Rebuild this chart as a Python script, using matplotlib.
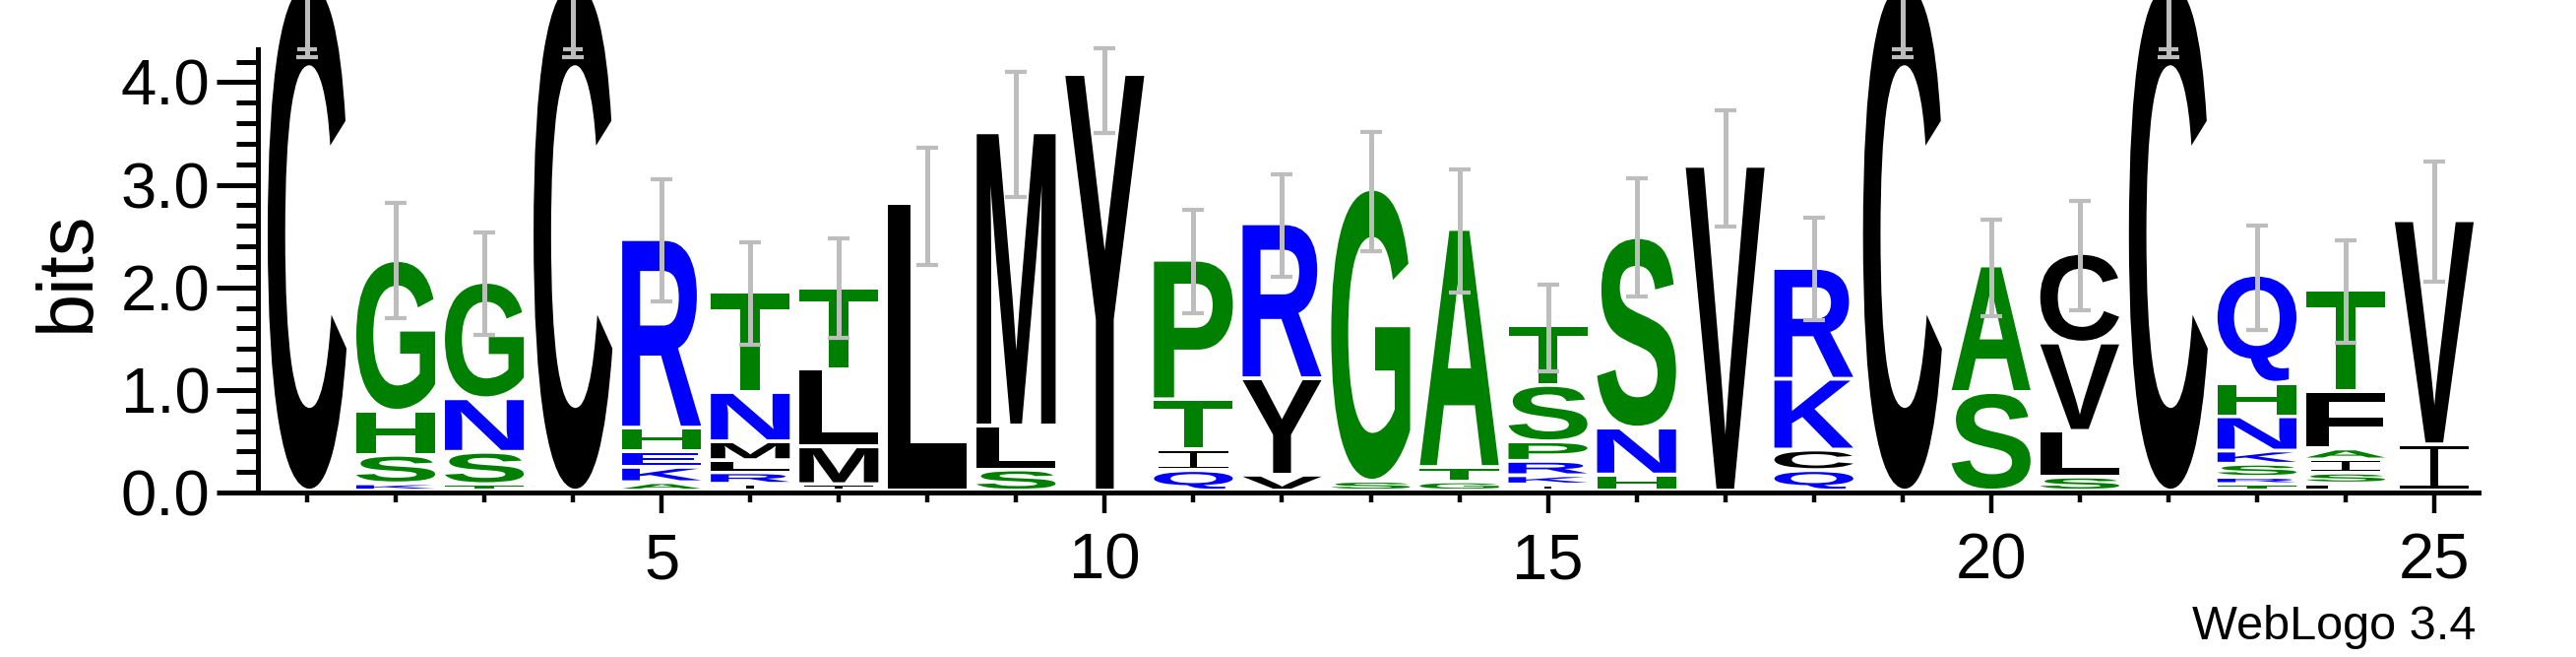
import numpy as np
import matplotlib
matplotlib.use("Agg")
import matplotlib.pyplot as plt
from matplotlib.textpath import TextPath
from matplotlib.patches import PathPatch
from matplotlib.path import Path
from matplotlib.font_manager import FontProperties
from matplotlib.transforms import Affine2D

# ---- data: letters per position (bottom -> top) and their heights in bits ----
positions = list(range(1, 26))
letters = [
    "C", "KSHG", "TSNG", "C", "AKEHR", "IRLMNT", "IMLT", "L", "SLM", "Y",
    "QITP", "VYR", "SG", "GTA", "IKRPST", "HNS", "V", "QCKR", "C", "SA",
    "SLVC", "C", "TRSKNHQ", "LSIAFT", "IV",
]
heights = [
    [4.95],
    [0.071, 0.278, 0.429, 1.469],
    [0.063, 0.315, 0.522, 1.135],
    [4.95],
    [0.082, 0.150, 0.155, 0.227, 1.837],
    [0.067, 0.112, 0.118, 0.184, 0.480, 0.980],
    [0.063, 0.368, 0.755, 0.796],
    [2.80],
    [0.206, 0.429, 2.857],
    [4.06],
    [0.200, 0.200, 0.490, 1.360],
    [0.155, 0.940, 1.510],
    [0.096, 2.845],
    [0.090, 0.140, 2.320],
    [0.060, 0.090, 0.140, 0.190, 0.550, 0.585],
    [0.157, 0.457, 1.857],
    [3.165],
    [0.200, 0.200, 0.690, 1.080],
    [4.95],
    [0.961, 1.233],
    [0.137, 0.445, 0.861, 0.873],
    [4.95],
    [0.064, 0.070, 0.128, 0.128, 0.334, 0.327, 1.053],
    [0.070, 0.106, 0.128, 0.106, 0.563, 0.988],
    [0.451, 2.184],
]
# error bars (low / high, bits)
err_lo = [4.24, 1.696, 1.533, 4.24, 1.859, 1.443, 1.51, 2.218, 2.88, 3.50,
          1.745, 2.104, 2.349, 1.953, 1.18, 1.908, 2.594, 1.676, 4.24, 1.716,
          1.778, 4.24, 1.586, 1.459, 2.055]
err_hi = [5.62, 2.818, 2.533, 5.62, 3.051, 2.439, 2.48, 3.357, 4.104, 4.33,
          2.757, 3.104, 3.512, 3.153, 2.03, 3.063, 3.728, 2.676, 5.62, 2.663,
          2.839, 5.62, 2.606, 2.459, 3.227]
extra_cap = [4.32, None, None, 4.32, None, None, None, None, None, None,
             None, None, None, None, None, None, None, None, 4.32, None,
             None, 4.32, None, None, None]

GREEN, BLUE, BLACK = "#008000", "#0000ff", "#000000"
colors = {
    "G": GREEN, "S": GREEN, "T": GREEN, "H": GREEN, "A": GREEN, "P": GREEN,
    "N": BLUE, "R": BLUE, "K": BLUE, "E": BLUE, "Q": BLUE,
    "C": BLACK, "L": BLACK, "M": BLACK, "Y": BLACK, "V": BLACK, "I": BLACK, "F": BLACK,
}

fp = FontProperties(family="Liberation Sans", weight="bold")


def rect(x0, y0, x1, y1):
    return Path([(x0, y0), (x1, y0), (x1, y1), (x0, y1), (x0, y0)],
                [Path.MOVETO, Path.LINETO, Path.LINETO, Path.LINETO, Path.CLOSEPOLY])


# thin serif "I" like WebLogo draws it
I_PATH = Path.make_compound_path(rect(0, 0, 1, 0.07), rect(0, 0.93, 1, 1),
                                 rect(0.445, 0, 0.555, 1))


def draw_letter(ax, ch, x, base, h, w=0.89, gap=0.037):
    gh = h - gap
    if gh <= 0.004:
        return
    if ch == "I":
        tp = I_PATH
        w = 0.78
    else:
        tp = TextPath((0, 0), ch, size=1, prop=fp)
    bb = tp.get_extents()
    tr = (Affine2D().translate(-bb.x0, -bb.y0)
          .scale(w / bb.width, gh / bb.height)
          .translate(x - w / 2, base + gap))
    patch = PathPatch(tr.transform_path(tp), facecolor=colors[ch],
                      edgecolor="none", lw=0, clip_on=False, zorder=2)
    ax.add_patch(patch)


fig = plt.figure(figsize=(26.17, 6.67), dpi=100)
ax = fig.add_axes([267 / 2617, 167 / 667, 2251 / 2617, 450 / 667])

for x, seq, hs in zip(positions, letters, heights):
    base = 0.0
    for ch, h in zip(seq, hs):
        draw_letter(ax, ch, x, base, h)
        base += h

mid = [(a + b) / 2 for a, b in zip(err_lo, err_hi)]
half = [(b - a) / 2 for a, b in zip(err_lo, err_hi)]
eb = ax.errorbar(positions, mid, yerr=half, fmt="none", ecolor="#bdbdbd",
                 elinewidth=3.6, capsize=7.6, capthick=3.0, zorder=3)
for art in eb.lines[1] + eb.lines[2]:
    art.set_clip_on(False)
for x, c in zip(positions, extra_cap):
    if c is not None:
        ax.plot([x - 0.115, x + 0.115], [c, c], color="#bdbdbd", lw=3.0,
                solid_capstyle="butt", zorder=3, clip_on=False)

ax.set_xlim(0.5, 25.5)
ax.set_ylim(0, 4.32)
for s in ("top", "right"):
    ax.spines[s].set_visible(False)
for s in ("left", "bottom"):
    ax.spines[s].set_linewidth(3.6)
ax.spines["left"].set_position(("outward", 3.6))

ax.set_xticks(range(5, 26, 5))
ax.set_xticks(positions, minor=True)
ax.set_yticks([0, 1, 2, 3, 4])
ax.set_yticks(np.arange(0, 4.3, 0.2), minor=True)
ax.set_yticklabels([f"{v:.1f}" for v in [0, 1, 2, 3, 4]])

ax.tick_params(axis="x", which="major", length=15, width=3.2, pad=14,
               labelsize=47)
ax.tick_params(axis="x", which="minor", length=7, width=3.2)
ax.tick_params(axis="y", which="major", length=30, width=3.6, pad=5,
               labelsize=47)
ax.tick_params(axis="y", which="minor", length=16, width=3.6)
for lab in ax.get_xticklabels() + ax.get_yticklabels():
    lab.set_family("Liberation Sans")

fig.text(69 / 2617, 1 - 275 / 667, "bits", rotation=90, ha="center",
         va="center", fontsize=57, family="Liberation Sans")
fig.text(2515 / 2617, (667 - 649) / 667, "WebLogo 3.4", ha="right",
         va="baseline", fontsize=35, family="Liberation Sans")

fig.savefig("out.png", dpi=100)
